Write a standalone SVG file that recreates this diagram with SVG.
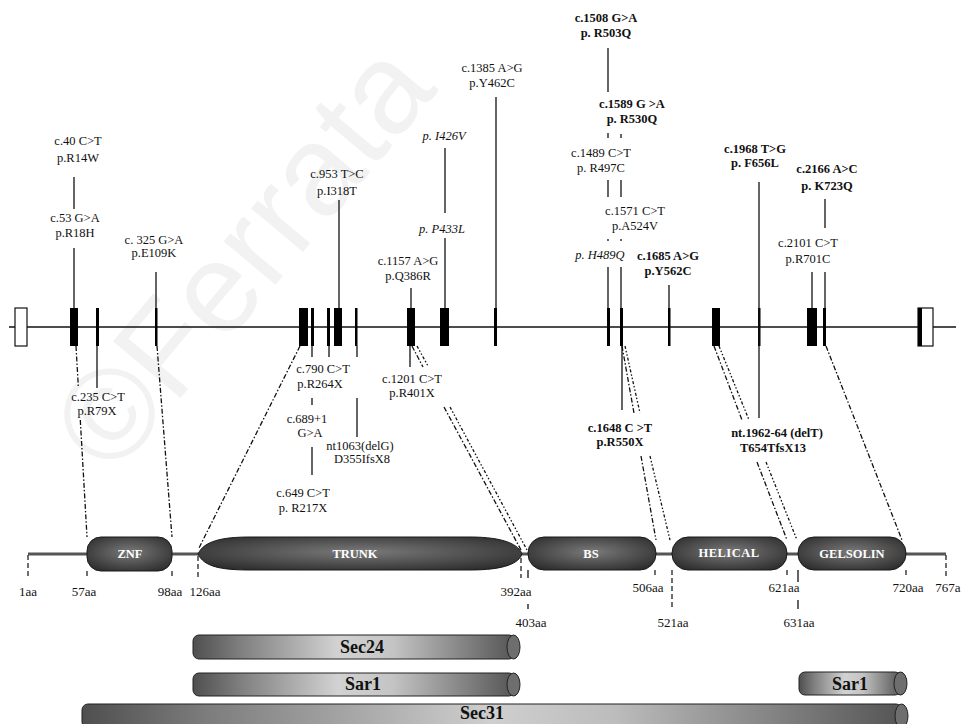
<svg xmlns="http://www.w3.org/2000/svg" width="961" height="724" viewBox="0 0 961 724">
<defs>
<style>
.t{font-family:"Liberation Serif",serif;font-size:12.5px;fill:#111;text-anchor:middle}
.b{font-weight:bold}
.i{font-style:italic}
.aa{font-family:"Liberation Serif",serif;font-size:13px;fill:#111;text-anchor:middle}
.dt{font-family:"Liberation Serif",serif;font-size:12.5px;font-weight:bold;fill:#fff;text-anchor:middle}
.cy{font-family:"Liberation Serif",serif;font-size:18px;font-weight:bold;fill:#111;text-anchor:middle}
.ln{stroke:#111;stroke-width:1.3;fill:none}
.dd{stroke:#111;stroke-width:1.3;fill:none;stroke-dasharray:5 2 1.5 2}
.dd2{stroke:#111;stroke-width:1.3;fill:none;stroke-dasharray:3 2 1.5 2 1.5 2}
.tk{stroke:#222;stroke-width:1.3;stroke-dasharray:5 3;fill:none}
.ex{fill:#000}
.dom{fill:url(#dg);stroke:#1a1a1a;stroke-width:1}
.cap{fill:#6e6e6e;stroke:#222;stroke-width:1}
.body{stroke:#222;stroke-width:1}
</style>
<radialGradient id="dg" cx="0.5" cy="0.45" r="0.65">
<stop offset="0" stop-color="#7a7a7a"/>
<stop offset="1" stop-color="#2c2c2c"/>
</radialGradient>
<linearGradient id="cg" x1="0" x2="1" y1="0" y2="0">
<stop offset="0" stop-color="#4f4f4f"/>
<stop offset="0.15" stop-color="#808080"/>
<stop offset="0.45" stop-color="#d2d2d2"/>
<stop offset="0.62" stop-color="#c4c4c4"/>
<stop offset="1" stop-color="#555"/>
</linearGradient>
<linearGradient id="cg31" x1="0" x2="1" y1="0" y2="0">
<stop offset="0" stop-color="#4f4f4f"/>
<stop offset="0.15" stop-color="#7c7c7c"/>
<stop offset="0.5" stop-color="#cfcfcf"/>
<stop offset="0.65" stop-color="#bcbcbc"/>
<stop offset="1" stop-color="#555"/>
</linearGradient>
</defs>
<rect width="961" height="724" fill="#fff"/>
<text x="276" y="284" transform="rotate(-50 276 284)" font-family="Liberation Sans, sans-serif" font-size="128" fill="#f2f2f2" text-anchor="middle">©Ferrata</text>

<g id="gene">
<line x1="9" y1="327" x2="956" y2="327" stroke="#111" stroke-width="1.3"/>
<rect x="15" y="308" width="12" height="38" fill="#fff" stroke="#111" stroke-width="1.2"/>
<rect class="ex" x="70" y="308" width="8" height="38"/>
<rect class="ex" x="96" y="308" width="3" height="38"/>
<rect class="ex" x="155" y="308" width="2.5" height="38"/>
<rect class="ex" x="299" y="308" width="9" height="38"/>
<rect class="ex" x="311" y="308" width="3" height="38"/>
<rect class="ex" x="327" y="308" width="3" height="38"/>
<rect class="ex" x="334" y="308" width="8" height="38"/>
<rect class="ex" x="355" y="308" width="2.5" height="38"/>
<rect class="ex" x="407" y="308" width="8" height="38"/>
<rect class="ex" x="440" y="308" width="9" height="38"/>
<rect class="ex" x="494" y="308" width="3" height="38"/>
<rect class="ex" x="607" y="308" width="3" height="38"/>
<rect class="ex" x="620" y="308" width="3" height="38"/>
<rect class="ex" x="668" y="308" width="2.5" height="38"/>
<rect class="ex" x="712" y="308" width="8" height="38"/>
<rect class="ex" x="758" y="308" width="2.5" height="38"/>
<rect class="ex" x="807" y="308" width="10" height="38"/>
<rect class="ex" x="823" y="308" width="3" height="38"/>
<rect x="918" y="308" width="15" height="38" fill="#fff" stroke="#111" stroke-width="1.2"/>
<rect class="ex" x="918" y="308" width="4" height="38"/>
</g>

<g id="connectors">
<line class="ln" x1="74" y1="177" x2="74" y2="209"/>
<line class="ln" x1="74" y1="248" x2="74" y2="308"/>
<line class="ln" x1="156" y1="272" x2="156" y2="308"/>
<line class="ln" x1="339" y1="200" x2="339" y2="308"/>
<line class="ln" x1="411" y1="288" x2="411" y2="308"/>
<line class="ln" x1="445" y1="148" x2="445" y2="213"/>
<line class="ln" x1="445" y1="238" x2="445" y2="308"/>
<line class="ln" x1="496" y1="97" x2="496" y2="308"/>
<line class="ln" x1="608" y1="48" x2="608" y2="92"/>
<line class="ln" x1="608" y1="133" x2="608" y2="138"/>
<line class="ln" x1="621" y1="134" x2="621" y2="138"/>
<line class="ln" x1="608" y1="180" x2="608" y2="197"/>
<line class="ln" x1="621" y1="180" x2="621" y2="197"/>
<line class="ln" x1="608" y1="239" x2="608" y2="241"/>
<line class="ln" x1="621" y1="239" x2="621" y2="241"/>
<line class="ln" x1="608" y1="267" x2="608" y2="308"/>
<line class="ln" x1="621" y1="267" x2="621" y2="308"/>
<line class="ln" x1="669" y1="285" x2="669" y2="308"/>
<line class="ln" x1="759" y1="182" x2="759" y2="418"/>
<line class="ln" x1="825" y1="199" x2="825" y2="228"/>
<line class="ln" x1="812" y1="272" x2="812" y2="308"/>
<line class="ln" x1="825" y1="272" x2="825" y2="308"/>
<line class="ln" x1="97" y1="346" x2="97" y2="388"/>
<line class="ln" x1="312" y1="346" x2="312" y2="357"/>
<line class="ln" x1="329" y1="346" x2="329" y2="357"/>
<line class="ln" x1="357" y1="346" x2="357" y2="357"/>
<line class="ln" x1="312" y1="398" x2="312" y2="405"/>
<line class="ln" x1="312" y1="447" x2="312" y2="475"/>
<line class="ln" x1="357" y1="398" x2="357" y2="437"/>
<line class="ln" x1="410" y1="346" x2="410" y2="367"/>
<line class="ln" x1="622" y1="346" x2="622" y2="410"/>
<line class="dd" x1="76" y1="346" x2="78.4" y2="388"/>
<line class="dd" x1="80.3" y1="420" x2="87" y2="537"/>
<line class="dd" x1="157" y1="346" x2="172" y2="537"/>
<line class="dd" x1="300" y1="346" x2="199" y2="548"/>
<line class="dd" x1="412" y1="346" x2="423" y2="367"/>
<line class="dd2" x1="417" y1="346" x2="428.5" y2="367"/>
<line class="dd" x1="444" y1="407" x2="521" y2="550"/>
<line class="dd2" x1="450" y1="407" x2="527" y2="550"/>
<line class="dd" x1="622" y1="346" x2="634" y2="413"/>
<line class="dd2" x1="625" y1="346" x2="640" y2="413"/>
<line class="dd" x1="641" y1="456" x2="656" y2="540"/>
<line class="dd2" x1="650" y1="456" x2="670" y2="540"/>
<line class="dd" x1="714" y1="346" x2="742" y2="420"/>
<line class="dd2" x1="719" y1="346" x2="749" y2="420"/>
<line class="dd" x1="757" y1="462" x2="787" y2="540"/>
<line class="dd2" x1="766" y1="462" x2="797" y2="540"/>
<line class="dd" x1="826" y1="346" x2="902" y2="540"/>
</g>

<g id="labels-above">
<text class="t" x="78" y="145">c.40 C&gt;T</text>
<text class="t" x="78" y="162">p.R14W</text>
<text class="t" x="75" y="222">c.53 G&gt;A</text>
<text class="t" x="75" y="237">p.R18H</text>
<text class="t" x="154" y="244">c. 325 G&gt;A</text>
<text class="t" x="154" y="257">p.E109K</text>
<text class="t" x="337" y="178">c.953 T&gt;C</text>
<text class="t" x="337" y="195">p.I318T</text>
<text class="t" x="408" y="265">c.1157 A&gt;G</text>
<text class="t" x="408" y="280">p.Q386R</text>
<text class="t i" x="444" y="140">p. I426V</text>
<text class="t i" x="442" y="233">p. P433L</text>
<text class="t" x="492" y="72">c.1385 A&gt;G</text>
<text class="t" x="492" y="87">p.Y462C</text>
<text class="t b" x="606" y="22">c.1508 G&gt;A</text>
<text class="t b" x="606" y="37">p. R503Q</text>
<text class="t b" x="632" y="108">c.1589 G &gt;A</text>
<text class="t b" x="632" y="123">p. R530Q</text>
<text class="t" x="601" y="157">c.1489 C&gt;T</text>
<text class="t" x="601" y="172">p. R497C</text>
<text class="t" x="635" y="215">c.1571 C&gt;T</text>
<text class="t" x="635" y="230">p.A524V</text>
<text class="t i" x="600" y="259">p. H489Q</text>
<text class="t b" x="668" y="260">c.1685 A&gt;G</text>
<text class="t b" x="668" y="275">p.Y562C</text>
<text class="t b" x="755" y="153">c.1968 T&gt;G</text>
<text class="t b" x="755" y="167">p. F656L</text>
<text class="t b" x="827" y="173">c.2166 A&gt;C</text>
<text class="t b" x="827" y="190">p. K723Q</text>
<text class="t" x="808" y="247">c.2101 C&gt;T</text>
<text class="t" x="808" y="263">p.R701C</text>
</g>

<g id="labels-below">
<text class="t" x="98" y="401">c.235 C&gt;T</text>
<text class="t" x="97" y="415">p.R79X</text>
<text class="t" x="323" y="373">c.790 C&gt;T</text>
<text class="t" x="320" y="388">p.R264X</text>
<text class="t" x="307" y="423">c.689+1</text>
<text class="t" x="310" y="437">G&gt;A</text>
<text class="t" x="303" y="497">c.649 C&gt;T</text>
<text class="t" x="303" y="512">p. R217X</text>
<text class="t" x="360" y="450">nt1063(delG)</text>
<text class="t" x="362" y="463">D355IfsX8</text>
<text class="t" x="412" y="383">c.1201 C&gt;T</text>
<text class="t" x="412" y="397">p.R401X</text>
<text class="t b" x="620" y="432">c.1648 C &gt;T</text>
<text class="t b" x="620" y="446">p.R550X</text>
<text class="t b" x="777" y="437" font-size="12">nt.1962-64 (delT)</text>
<text class="t b" x="773" y="452" font-size="12">T654TfsX13</text>
</g>

<g id="protein">
<line x1="28" y1="554" x2="946" y2="554" stroke="#555" stroke-width="3"/>
<line class="tk" x1="28" y1="555" x2="28" y2="577"/>
<line class="tk" x1="87" y1="571" x2="87" y2="577"/>
<line class="tk" x1="172" y1="571" x2="172" y2="578"/>
<line class="tk" x1="198" y1="556" x2="198" y2="578"/>
<line class="tk" x1="521" y1="558" x2="521" y2="578"/>
<line class="ln" x1="528" y1="570" x2="528" y2="578"/>
<line class="ln" x1="528" y1="604" x2="528" y2="609"/>
<line class="tk" x1="655" y1="570" x2="655" y2="576"/>
<line class="tk" x1="672" y1="570" x2="672" y2="609"/>
<line class="tk" x1="787" y1="570" x2="787" y2="576"/>
<line class="ln" x1="798" y1="570" x2="798" y2="582"/>
<line class="ln" x1="798" y1="600" x2="798" y2="609"/>
<line class="tk" x1="906" y1="570" x2="906" y2="576"/>
<line class="tk" x1="946" y1="555" x2="946" y2="576"/>
</g>
<g id="znf"><rect class="dom" x="87" y="537" width="85" height="34" rx="14"/><text class="dt" x="130" y="558">ZNF</text></g>
<g id="trunk"><path class="dom" d="M198,554 C204,541 222,537 250,537 L470,537 C505,537 519,545 522,554 C519,563 505,570 470,570 L250,570 C222,570 204,567 198,554 Z"/><text class="dt" x="355" y="558">TRUNK</text></g>
<g id="bs"><rect class="dom" x="528" y="537" width="128" height="33" rx="16"/><text class="dt" x="591" y="558">BS</text></g>
<g id="helical"><rect class="dom" x="672" y="537" width="115" height="33" rx="16"/><text class="dt" x="729" y="557" letter-spacing="0.5">HELICAL</text></g>
<g id="gelsolin"><rect class="dom" x="798" y="537" width="108" height="33" rx="16"/><text class="dt" x="852" y="558">GELSOLIN</text></g>

<g id="aa-labels">
<text class="aa" x="28" y="596">1aa</text>
<text class="aa" x="84" y="596">57aa</text>
<text class="aa" x="170" y="596">98aa</text>
<text class="aa" x="205" y="596">126aa</text>
<text class="aa" x="516" y="596">392aa</text>
<text class="aa" x="531" y="627">403aa</text>
<text class="aa" x="648" y="592">506aa</text>
<text class="aa" x="673" y="627">521aa</text>
<text class="aa" x="784" y="592">621aa</text>
<text class="aa" x="799" y="627">631aa</text>
<text class="aa" x="908" y="592">720aa</text>
<text class="aa" x="948" y="592">767a</text>
</g>

<g id="sec24"><rect class="body" x="193" y="635" width="322" height="24" rx="6" fill="url(#cg)"/><ellipse class="cap" cx="513.5" cy="647" rx="6.5" ry="12"/><text class="cy" x="362" y="653">Sec24</text></g>
<g id="sar1-a"><rect class="body" x="193" y="673" width="322" height="23" rx="6" fill="url(#cg)"/><ellipse class="cap" cx="513.5" cy="684.5" rx="6.5" ry="11.5"/><text class="cy" x="363" y="690">Sar1</text></g>
<g id="sar1-b"><rect class="body" x="799" y="672" width="102" height="23" rx="6" fill="url(#cg)"/><ellipse class="cap" cx="900.5" cy="683.5" rx="6.5" ry="11.5"/><text class="cy" x="850" y="690">Sar1</text></g>
<g id="sec31"><rect class="body" x="82" y="704" width="820" height="24" rx="6" fill="url(#cg31)"/><ellipse class="cap" cx="901.5" cy="716" rx="6.5" ry="12"/><text class="cy" x="482" y="719" font-size="17">Sec31</text></g>
</svg>
